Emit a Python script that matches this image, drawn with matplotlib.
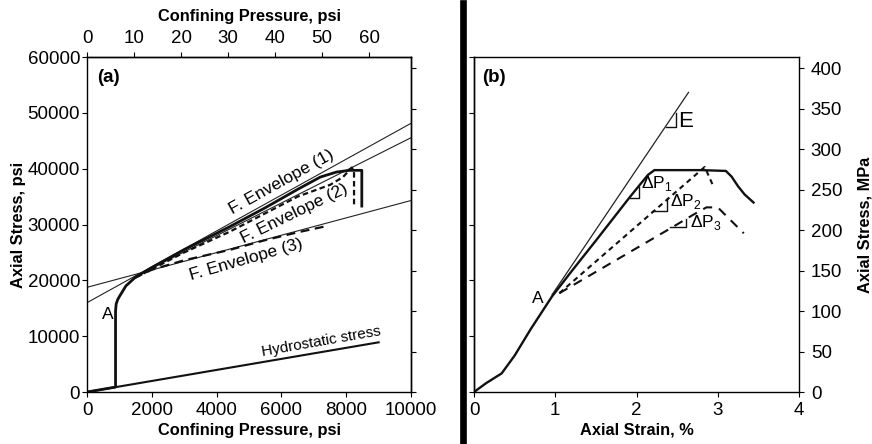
import numpy as np
import matplotlib
matplotlib.use("Agg")
from matplotlib import pyplot as plt
from matplotlib.lines import Line2D

plt.rcParams['font.family'] = ['Liberation Sans', 'DejaVu Sans']
plt.rcParams['mathtext.fontset'] = 'custom'
plt.rcParams['mathtext.rm'] = 'Liberation Sans'
plt.rcParams['font.size'] = 13.5
plt.rcParams['axes.linewidth'] = 1.0
plt.rcParams['xtick.major.size'] = 3.5
plt.rcParams['ytick.major.size'] = 3.5
plt.rcParams['xtick.labelsize'] = 13.5
plt.rcParams['ytick.labelsize'] = 13.5

PSI_PER_MPA = 145.038
LABEL_SIZE = 11.8

# (a) stress path in confining pressure / axial stress space, psi
solid_conf = [0, 880, 880, 900, 950, 1020, 1200, 1500, 2000, 3000, 4400, 5500, 6500, 7200, 7700, 8100, 8480, 8480]
solid_axial = [0, 880, 14500, 15800, 16600, 17300, 19000, 20600, 22300, 25500, 29600, 33000, 36300, 38500, 39400, 39700, 39700, 33300]

dash2_conf = [1500, 2000, 3000, 4400, 5500, 6500, 7500, 7900, 8170, 8240, 8240]
dash2_axial = [20500, 22000, 25000, 28700, 32000, 35000, 37100, 38500, 40200, 39600, 33400]

dash3_conf = [1450, 2000, 3000, 4400, 5500, 6500, 7300]
dash3_axial = [20400, 21900, 23600, 25450, 27200, 28600, 29600]

env1_conf = [0, 10000]
env1_axial = [16000, 48130]
env2_conf = [1600, 10000]
env2_axial = [21000, 45550]
env3_conf = [0, 10000]
env3_axial = [18750, 34300]

hydro_conf = [0, 9000]
hydro_axial = [0, 8900]

# (b) axial strain (%) vs axial stress (MPa)
strain_solid = [0, 0.15, 0.34, 0.5, 0.7, 0.96, 1.2, 1.5, 1.92, 2.05, 2.14, 2.22, 2.5, 2.8, 3.1, 3.17, 3.25, 3.33, 3.44]
stress_solid = [0, 11, 23, 45, 78, 118, 149, 187, 241, 257, 268, 274, 274, 274, 273, 266, 254, 244, 234]

strain_e = [0.96, 2.64]
stress_e = [120, 370]

strain_p2 = [1.05, 2.84, 2.95]
stress_p2 = [122, 278, 253]

strain_p3 = [1.05, 2.45, 2.7, 2.86, 3.0, 3.32]
stress_p3 = [122, 204, 219, 228, 228, 196]

fig = plt.figure(figsize=(8.72, 4.44), dpi=100)

# ---------------- panel (a) ----------------
ax = fig.add_axes([0.0998, 0.1171, 0.3716, 0.7545])
ax.plot(env1_conf, env1_axial, color='#222', lw=0.8)
ax.plot(env2_conf, env2_axial, color='#222', lw=0.8)
ax.plot(env3_conf, env3_axial, color='#222', lw=0.8)
ax.plot(hydro_conf, hydro_axial, color='#111', lw=1.5)
ax.plot(solid_conf, solid_axial, color='#111', lw=2.0)
ax.plot(dash2_conf, dash2_axial, color='#111', lw=1.6, dashes=(2.5, 1.5))
ax.plot(dash3_conf, dash3_axial, color='#111', lw=1.6, dashes=(4, 2.5))

ax.set_xlim(0, 10000)
ax.set_ylim(0, 60000)
ax.set_xticks(np.arange(0, 10001, 2000))
ax.set_yticks(np.arange(0, 60001, 10000))
ax.tick_params(axis='y', pad=1.5)
ax.set_xlabel('Confining Pressure, psi', fontweight='bold', fontsize=LABEL_SIZE, labelpad=3)
ax.set_ylabel('Axial Stress, psi', fontweight='bold', fontsize=LABEL_SIZE, labelpad=1)

top = ax.secondary_xaxis('top', functions=(lambda p: p / PSI_PER_MPA, lambda m: m * PSI_PER_MPA))
top.set_xticks(np.arange(0, 61, 10))
top.tick_params(pad=4)
top.set_xlabel('Confining Pressure, psi', fontweight='bold', fontsize=LABEL_SIZE, labelpad=6)

rgt = ax.secondary_yaxis('right', functions=(lambda p: p / PSI_PER_MPA, lambda m: m * PSI_PER_MPA))
rgt.set_yticks(np.arange(0, 401, 50))
rgt.set_yticklabels([])

ax.text(0.03, 0.94, '(a)', transform=ax.transAxes, fontweight='bold', fontsize=13.5, va='center')
ax.text(5990, 37600, 'F. Envelope (1)', rotation=29, ha='center', va='center', fontsize=12.5)
ax.text(6390, 31900, 'F. Envelope (2)', rotation=26, ha='center', va='center', fontsize=12.5)
ax.text(4923, 23730, 'F. Envelope (3)', rotation=16, ha='center', va='center', fontsize=12.5)
ax.text(7220, 9050, 'Hydrostatic stress', rotation=10, ha='center', va='center', fontsize=11)
ax.text(640, 13800, 'A', ha='center', va='center', fontsize=12.5)

# ---------------- panel (b) ----------------
bx = fig.add_axes([0.5436, 0.1171, 0.3727, 0.7545])
bx.plot(strain_e, stress_e, color='#222', lw=0.9)
bx.plot(strain_solid, stress_solid, color='#111', lw=1.7)
bx.plot(strain_p2, stress_p2, color='#111', lw=1.5, dashes=(2.5, 2))
bx.plot(strain_p3, stress_p3, color='#111', lw=1.5, dashes=(4.5, 3.5))

# slope triangles
bx.plot([2.36, 2.49, 2.49], [327, 327, 345], color='#111', lw=1.0)
bx.plot([1.92, 2.03, 2.03], [239, 239, 253], color='#111', lw=1.0)
bx.plot([2.19, 2.38, 2.38], [223, 223, 240], color='#111', lw=1.0)
bx.plot([2.41, 2.61, 2.61], [204, 204, 214], color='#111', lw=1.0)

bx.text(2.51, 334, 'E', ha='left', va='center', fontsize=16)
bx.text(2.06, 258, r'ΔP$_\mathregular{1}$', ha='left', va='center', fontsize=12.5)
bx.text(2.41, 235, r'ΔP$_\mathregular{2}$', ha='left', va='center', fontsize=12.5)
bx.text(2.66, 209, r'ΔP$_\mathregular{3}$', ha='left', va='center', fontsize=12.5)
bx.text(0.78, 115, 'A', ha='center', va='center', fontsize=12.5)
bx.text(0.025, 0.94, '(b)', transform=bx.transAxes, fontweight='bold', fontsize=13.5, va='center')

bx.set_xlim(0, 4)
bx.set_ylim(0, 60000 / PSI_PER_MPA)
bx.set_xticks(np.arange(0, 5, 1))
bx.set_yticks(np.arange(0, 401, 50))
bx.yaxis.tick_right()
bx.yaxis.set_label_position('right')
bx.tick_params(axis='y', pad=5)
bx.set_xlabel('Axial Strain, %', fontweight='bold', fontsize=LABEL_SIZE, labelpad=3)
bx.set_ylabel('Axial Stress, MPa', fontweight='bold', fontsize=LABEL_SIZE, labelpad=11)

lft = bx.secondary_yaxis('left', functions=(lambda m: m * PSI_PER_MPA, lambda p: p / PSI_PER_MPA))
lft.set_yticks(np.arange(0, 60001, 10000))
lft.set_yticklabels([])

# heavy divider between the two panels
fig.add_artist(Line2D([0.5315, 0.5315], [0, 0.993], lw=4.8, color='black',
                      transform=fig.transFigure))

plt.savefig('out.png', dpi=100)
